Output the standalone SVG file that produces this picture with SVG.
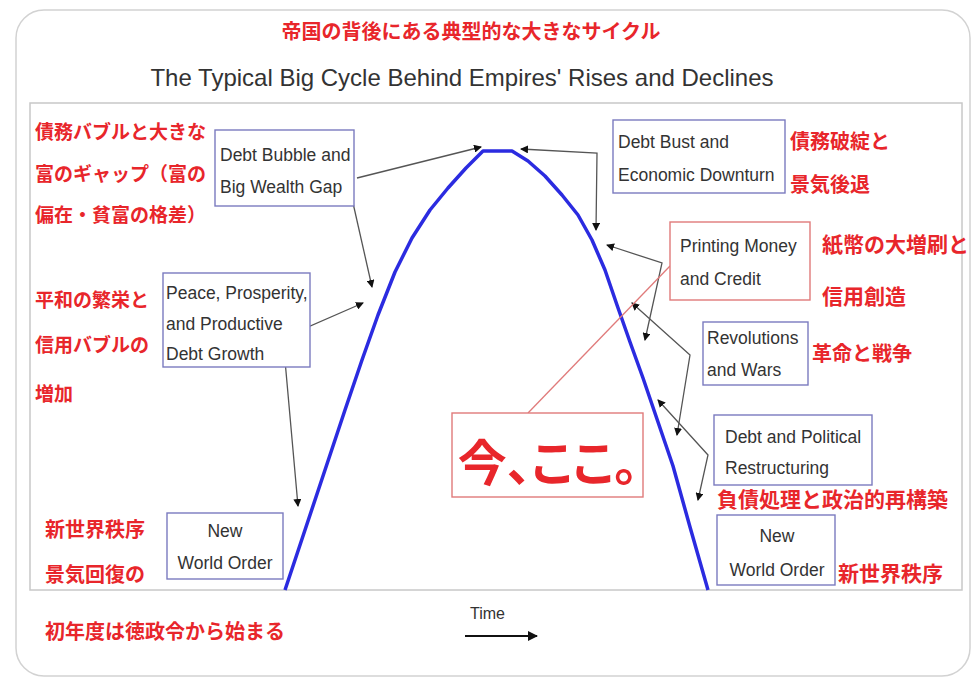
<svg xmlns="http://www.w3.org/2000/svg" width="974" height="681" viewBox="0 0 974 681">
<style>
.jp{font-family:"Noto Sans CJK JP","Noto Sans",sans-serif;font-weight:700;fill:#e8262b;dominant-baseline:central}
.en{font-family:"Liberation Sans",Arial,sans-serif;font-size:17.5px;fill:#333;dominant-baseline:central}
.box{fill:#fff;stroke:#7b7bbf;stroke-width:1.4}
.rbox{fill:#fff;stroke:#e07a7a;stroke-width:1.4}
.conn{fill:none;stroke:#555;stroke-width:1.3;marker-start:url(#ah);marker-end:url(#ah)}
.one{fill:none;stroke:#555;stroke-width:1.3;marker-end:url(#ah)}
</style>
<defs>
<marker id="ah" viewBox="0 0 8 8" refX="7" refY="4" markerWidth="8" markerHeight="8" markerUnits="userSpaceOnUse" orient="auto-start-reverse">
<path d="M0,0 L8,4 L0,8 z" fill="#111"/>
</marker>
<marker id="ta" viewBox="0 0 10 10" refX="9" refY="5" markerWidth="10" markerHeight="10" markerUnits="userSpaceOnUse" orient="auto">
<path d="M0,0 L10,5 L0,10 z" fill="#111"/>
</marker>
</defs>
<rect x="0" y="0" width="974" height="681" fill="#fff"/>
<rect x="16" y="10" width="954" height="666" rx="28" fill="#fff" stroke="#d2d2d2" stroke-width="1.5"/>
<text class="jp" x="471" y="30" font-size="20" text-anchor="middle">帝国の背後にある典型的な大きなサイクル</text>
<text x="462" y="77" font-family="Liberation Sans,Arial,sans-serif" font-size="24" fill="#333" text-anchor="middle" dominant-baseline="central">The Typical Big Cycle Behind Empires' Rises and Declines</text>
<rect x="30" y="103" width="932" height="487" fill="none" stroke="#c8c8c8" stroke-width="1.5"/>

<polyline points="285,590 305,530 325,470 345,410 362,360 378,315 395,272 412,238 430,210 448,188 466,168 483,151 512,151 528,161 545,176 562,195 578,215 592,240 605,270 617,305 630,342 643,378 658,422 673,466 690,527 708,590" fill="none" stroke="#2b2be0" stroke-width="3.5" stroke-linejoin="round"/>

<g id="connectors">
<line class="one" x1="357" y1="178" x2="481" y2="147"/>
<line class="one" x1="353" y1="203" x2="372" y2="287"/>
<path class="conn" d="M363,303 L283,338 L298,506"/>
<path class="conn" d="M521,149 L597,153 L596,230"/>
<path class="conn" d="M607,245 L662,263 L645,340"/>
<path class="conn" d="M632,303 L690,355 L677,435"/>
<path class="conn" d="M658,400 L708,455 L698,500"/>
<line x1="528" y1="413" x2="670" y2="266" stroke="#e07a7a" stroke-width="1.3"/>
<line x1="465" y1="636" x2="537" y2="636" stroke="#111" stroke-width="2" marker-end="url(#ta)"/>
</g>

<g id="n-debt-bubble">
<rect class="box" x="215" y="130" width="139" height="76"/>
<text class="en" x="220" y="155">Debt Bubble and</text>
<text class="en" x="220" y="187">Big Wealth Gap</text>
</g>
<g id="n-peace">
<rect class="box" x="163" y="273" width="147" height="94"/>
<text class="en" x="166" y="293">Peace, Prosperity,</text>
<text class="en" x="166" y="324">and Productive</text>
<text class="en" x="166" y="354">Debt Growth</text>
</g>
<g id="n-nwo-left">
<rect class="box" x="167" y="513" width="116" height="66"/>
<text class="en" x="225" y="531" text-anchor="middle">New</text>
<text class="en" x="225" y="563" text-anchor="middle">World Order</text>
</g>
<g id="n-debt-bust">
<rect class="box" x="613" y="120" width="172" height="73"/>
<text class="en" x="618" y="142">Debt Bust and</text>
<text class="en" x="618" y="175">Economic Downturn</text>
</g>
<g id="n-printing">
<rect class="rbox" x="670" y="222" width="140" height="78"/>
<text class="en" x="680" y="246">Printing Money</text>
<text class="en" x="680" y="279">and Credit</text>
</g>
<g id="n-revolutions">
<rect class="box" x="703" y="322" width="105" height="63"/>
<text class="en" x="707" y="338">Revolutions</text>
<text class="en" x="707" y="370">and Wars</text>
</g>
<g id="n-debt-political">
<rect class="box" x="714" y="415" width="158" height="70"/>
<text class="en" x="725" y="437">Debt and Political</text>
<text class="en" x="725" y="468">Restructuring</text>
</g>
<g id="n-nwo-right">
<rect class="box" x="717" y="515" width="118" height="70"/>
<text class="en" x="777" y="536" text-anchor="middle">New</text>
<text class="en" x="777" y="570" text-anchor="middle">World Order</text>
</g>
<g id="n-now-here">
<rect class="rbox" x="452" y="413" width="191" height="84"/>
<text class="jp" x="548" y="459" font-size="49" text-anchor="middle" style="font-feature-settings:'palt'">今、ここ。</text>
</g>

<g id="jp-labels">
<text class="jp" x="35" y="130" font-size="19">債務バブルと大きな</text>
<text class="jp" x="35" y="172" font-size="19">富のギャップ（富の</text>
<text class="jp" x="35" y="213" font-size="19">偏在・貧富の格差）</text>
<text class="jp" x="35" y="298" font-size="19">平和の繁栄と</text>
<text class="jp" x="35" y="343" font-size="19">信用バブルの</text>
<text class="jp" x="35" y="392" font-size="19">増加</text>
<text class="jp" x="45" y="528" font-size="20">新世界秩序</text>
<text class="jp" x="45" y="573" font-size="20">景気回復の</text>
<text class="jp" x="45" y="630" font-size="20">初年度は徳政令から始まる</text>
<text class="jp" x="790" y="140" font-size="20">債務破綻と</text>
<text class="jp" x="790" y="183" font-size="20">景気後退</text>
<text class="jp" x="822" y="243" font-size="21">紙幣の大増刷と</text>
<text class="jp" x="822" y="295" font-size="21">信用創造</text>
<text class="jp" x="812" y="352" font-size="20">革命と戦争</text>
<text class="jp" x="717" y="498" font-size="21">負債処理と政治的再構築</text>
<text class="jp" x="838" y="572" font-size="21">新世界秩序</text>
</g>
<text x="470" y="613" font-family="Liberation Sans,Arial,sans-serif" font-size="16" fill="#333" dominant-baseline="central">Time</text>
</svg>
